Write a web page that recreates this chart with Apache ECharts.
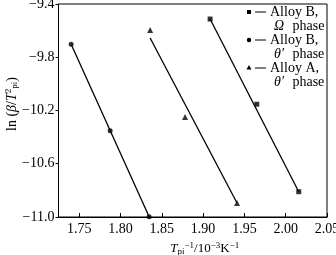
<!DOCTYPE html>
<html><head><meta charset="utf-8">
<script src="https://cdn.jsdelivr.net/npm/echarts@6/dist/echarts.min.js"></script>
<style>html,body{margin:0;padding:0;background:#fff}#c{width:336px;height:255px}</style>
</head><body><div id="c"></div>
<script>
// Data (x: 1/Tpi in 10^-3 K^-1, y: ln(beta/Tpi^2))
const bOmegaX = [1.9085, 1.965, 2.0158];
const bOmegaY = [-9.513, -10.153, -10.81];
const bThetaX = [1.7403, 1.7875, 1.8347];
const bThetaY = [-9.703, -10.352, -10.998];
const aThetaX = [1.8359, 1.8782, 1.9411];
const aThetaY = [-9.595, -10.249, -10.895];
// fitted lines (endpoints as drawn)
const fitBOmegaX = [1.9085, 2.0158];
const fitBOmegaY = [-9.513, -10.81];
const fitBThetaX = [1.7403, 1.8347];
const fitBThetaY = [-9.703, -10.998];
const fitAThetaX = [1.8359, 1.9411];
const fitAThetaY = [-9.655, -10.895];
const xTicks = [1.75, 1.80, 1.85, 1.90, 1.95, 2.00, 2.05];
const yTicks = [-11.0, -10.6, -10.2, -9.8, -9.4];

const zip = (xs, ys) => xs.map((x, i) => [x, ys[i]]);
const FONT = 'Liberation Serif';
const chart = echarts.init(document.getElementById('c'), null, {renderer: 'canvas'});
const lineS = (d) => ({type: 'line', data: d, symbol: 'none', lineStyle: {color: '#000', width: 1.3}, silent: true, z: 2});
const ptS = (d, sym, size) => ({type: 'scatter', data: d, symbol: sym, symbolSize: size, itemStyle: {color: '#000'}, z: 3});
const mkRich = (fs) => ({
  it: {fontStyle: 'italic', fontFamily: FONT, fontSize: fs, color: '#000', fill: '#000'},
  sub: {fontFamily: FONT, fontSize: 9, verticalAlign: 'bottom', padding: [6, 0, 0, 0], color: '#000', fill: '#000'},
  sup: {fontFamily: FONT, fontSize: 9, verticalAlign: 'top', padding: [0, 0, 6, 0], color: '#000', fill: '#000'}
});

chart.setOption({
  animation: false,
  grid: {left: 58.5, right: 9, top: 4, bottom: 38, show: true, borderColor: '#000', borderWidth: 1,
    containLabel: false, outerBoundsMode: 'none'},
  xAxis: {
    type: 'value', min: 1.725, max: 2.05,
    axisLine: {show: true, onZero: false, lineStyle: {color: '#000'}},
    splitLine: {show: false},
    axisTick: {show: true, inside: true, length: 4, customValues: xTicks, lineStyle: {color: '#000'}},
    axisLabel: {customValues: xTicks, color: '#000', fontFamily: FONT, fontSize: 14, margin: 5,
      formatter: v => v.toFixed(2)},
    name: '{it|T}{sub|pi}{sup|−1}/10{sup|−3}K{sup|−1}',
    nameLocation: 'middle', nameGap: 13,
    nameTextStyle: {color: '#000', fontFamily: FONT, fontSize: 13, padding: [0, 0, 0, 24], rich: mkRich(13)}
  },
  yAxis: {
    type: 'value', min: -11.0, max: -9.4,
    axisLine: {show: true, onZero: false, lineStyle: {color: '#000'}},
    splitLine: {show: false},
    axisTick: {show: true, inside: false, length: 3, customValues: yTicks, lineStyle: {color: '#000'}},
    axisLabel: {customValues: yTicks, color: '#000', fontFamily: FONT, fontSize: 14, margin: 4,
      formatter: v => (v < 0 ? '−' : '') + Math.abs(v).toFixed(1)}
  },
  series: [
    lineS(zip(fitBOmegaX, fitBOmegaY)),
    lineS(zip(fitBThetaX, fitBThetaY)),
    lineS(zip(fitAThetaX, fitAThetaY)),
    ptS(zip(bOmegaX, bOmegaY), 'rect', 5),
    ptS(zip(bThetaX, bThetaY), 'circle', 5),
    ptS(zip(aThetaX, aThetaY), 'triangle', 6)
  ],
  graphic: (function () {
    const items = [
      {sym: 'rect', y: 12, l1: 'Alloy B,', l2: '{it|Ω} phase'},
      {sym: 'circle', y: 40, l1: 'Alloy B,', l2: '{it|θ′} phase'},
      {sym: 'triangle', y: 68, l1: 'Alloy A,', l2: '{it|θ′} phase'}
    ];
    const g = [{
      type: 'text', x: 12, y: 104, rotation: Math.PI / 2, z: 5,
      style: {text: 'ln ({it|β}/{it|T}{sup|2}{sub|pi})', fill: '#000', font: '14px ' + FONT,
        align: 'center', verticalAlign: 'middle', rich: mkRich(14)}
    }];
    items.forEach(it => {
      let m;
      if (it.sym === 'rect') m = {type: 'rect', shape: {x: 247, y: it.y - 2, width: 4, height: 4}};
      else if (it.sym === 'circle') m = {type: 'circle', shape: {cx: 249, cy: it.y, r: 2.2}};
      else m = {type: 'polygon', shape: {points: [[249, it.y - 3], [246.5, it.y + 1.5], [251.5, it.y + 1.5]]}};
      m.style = {fill: '#000'}; m.z = 5;
      g.push(m);
      g.push({type: 'line', shape: {x1: 255, y1: it.y, x2: 266, y2: it.y}, style: {stroke: '#000', lineWidth: 1}, z: 5});
      g.push({type: 'text', x: 270, y: it.y, z: 5, style: {text: it.l1, fill: '#000', font: '14px ' + FONT, verticalAlign: 'middle'}});
      g.push({type: 'text', x: 274, y: it.y + 14, z: 5, style: {text: it.l2, fill: '#000', font: '14px ' + FONT, verticalAlign: 'middle',
        rich: {it: {fontStyle: 'italic', fontFamily: FONT, fontSize: 14, fill: '#000', padding: [0, 5, 0, 0]}}}});
    });
    return g;
  })()
});
</script></body></html>
